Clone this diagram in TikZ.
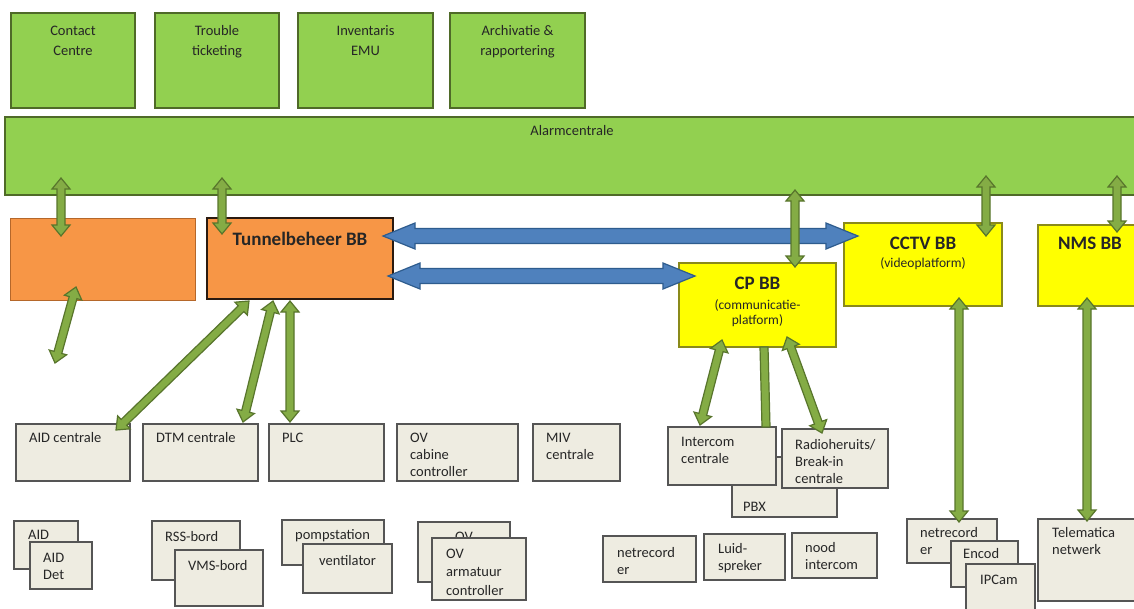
\documentclass[tikz,border=0pt]{standalone}
\usepackage{fontspec}
\setmainfont{Carlito}
\usetikzlibrary{calc}
\definecolor{gfill}{HTML}{92D050}
\definecolor{gdraw}{HTML}{4F6A28}
\definecolor{ofill}{HTML}{F79646}
\definecolor{odraw}{HTML}{B5672A}
\definecolor{tbdraw}{HTML}{2A1A10}
\definecolor{yfill}{HTML}{FFFF00}
\definecolor{ydraw}{HTML}{8A8A1A}
\definecolor{bxfill}{HTML}{EEECE1}
\definecolor{bxdraw}{HTML}{555555}
\definecolor{bfill}{HTML}{4F81BD}
\definecolor{bdraw}{HTML}{2E5C8E}
\definecolor{afill}{HTML}{84AC45}
\definecolor{adraw}{HTML}{58752C}
\definecolor{txtc}{HTML}{262626}

\tikzset{
  basebox/.style={rectangle, inner sep=0pt, outer sep=0pt},
  topbox/.style={basebox, fill=gfill, draw=gdraw, line width=1.5pt},
  orangebox/.style={basebox, fill=ofill, draw=odraw, line width=1pt},
  tbbox/.style={basebox, fill=ofill, draw=tbdraw, line width=2.5pt},
  yellowbox/.style={basebox, fill=yfill, draw=ydraw, line width=1.2pt},
  graybox/.style={basebox, fill=bxfill, draw=bxdraw, line width=1.5pt},
  txt/.style={inner sep=0pt, font=\fontsize{14.5}{17}\selectfont, text=txtc},
  smalltxt/.style={inner sep=0pt, font=\fontsize{13.5}{16}\selectfont, text=txtc},
  boldtxt/.style={inner sep=0pt, font=\bfseries\fontsize{19}{22}\selectfont, text=txtc},
  garrow/.style={fill=afill, draw=adraw, line width=1.2pt, line join=miter},
  barrow/.style={fill=bfill, draw=bdraw, line width=1.2pt, line join=miter},
}

% box node from corner coordinates (pixels, y downwards)
\newcommand\bx[6]{\node[#2, minimum width={#5-#3}, minimum height={#6-#4}] (#1) at ({(#3+#5)/2},{(#4+#6)/2}) {};}
% left aligned / centred multi-line text, first baseline is the node baseline
\newcommand\tl[2][17pt]{\vtop{\baselineskip=#1\lineskiplimit=-30pt\halign{##\hfil\cr#2\crcr}}}
\newcommand\cl[2][17pt]{\vtop{\baselineskip=#1\lineskiplimit=-30pt\halign{\hfil##\hfil\cr#2\crcr}}}
% text at top left of a box
\newcommand\tx[5]{\node[txt, anchor=base west] (#1) at ([xshift=#3pt, yshift=-#4pt]#2.north west) {\tl{#5}};}
% double headed block arrow: style, from, to, half shaft, half head, head length
\newcommand\dbl[6]{%
  \path (#2) coordinate (da-a) (#3) coordinate (da-b);
  \path ($(da-a)!#6!(da-b)$) coordinate (da-p) ($(da-b)!#6!(da-a)$) coordinate (da-q);
  \draw[#1] (da-a) -- ($(da-p)!#5!90:(da-b)$) -- ($(da-p)!#4!90:(da-b)$)
    -- ($(da-q)!#4!-90:(da-a)$) -- ($(da-q)!#5!-90:(da-a)$) -- (da-b)
    -- ($(da-q)!#5!90:(da-a)$) -- ($(da-q)!#4!90:(da-a)$)
    -- ($(da-p)!#4!-90:(da-b)$) -- ($(da-p)!#5!-90:(da-b)$) -- cycle;}
\newcommand\garr[2]{\dbl{garrow}{#1}{#2}{4pt}{9pt}{11pt}}
\newcommand\barr[2]{\dbl{barrow}{#1}{#2}{7.5pt}{13pt}{32pt}}

\begin{document}
\begin{tikzpicture}[x=1pt, y=-1pt]
\useasboundingbox (0,0) rectangle (1134,608);
\fill[white] (0,0) rectangle (1134,608);
\clip (0,0) rectangle (1134,608);

% top row
\bx{cc}{topbox}{11}{13}{135}{108}
\node[txt, anchor=base] (cc-t) at ([yshift=-22pt]cc.north) {\cl[20pt]{Contact\cr Centre}};
\bx{tt}{topbox}{155}{13}{279}{108}
\node[txt, anchor=base] (tt-t) at ([yshift=-22pt]tt.north) {\cl[20pt]{Trouble\cr ticketing}};
\bx{inv}{topbox}{298}{13}{433}{108}
\node[txt, anchor=base] (inv-t) at ([yshift=-22pt]inv.north) {\cl[20pt]{Inventaris\cr EMU}};
\bx{arch}{topbox}{450}{13}{585}{108}
\node[txt, anchor=base] (arch-t) at ([yshift=-22pt]arch.north) {\cl[20pt]{Archivatie \&\cr rapportering}};

% alarm bar
\bx{alarm}{topbox}{5}{117}{1145}{195}
\node[txt, anchor=base] (alarm-t) at ([xshift=567pt, yshift=-18pt]alarm.north west) {Alarmcentrale};

% building blocks
\bx{or1}{orangebox}{10}{218}{195}{300}
\bx{tb}{tbbox}{207}{218}{393}{299}
\node[boldtxt, anchor=base] (tb-t) at ([yshift=-27pt]tb.north) {Tunnelbeheer BB};
\bx{cp}{yellowbox}{679}{263}{836}{347}
\node[boldtxt, anchor=base] (cp-t) at ([yshift=-26pt]cp.north) {CP BB};
\node[smalltxt, anchor=base] (cp-s) at ([yshift=-46pt]cp.north) {\cl[15pt]{(communicatie-\cr platform)}};
\bx{cctv}{yellowbox}{844}{223}{1002}{306}
\node[boldtxt, anchor=base] (cctv-t) at ([yshift=-26pt]cctv.north) {CCTV BB};
\node[smalltxt, anchor=base] (cctv-s) at ([yshift=-44pt]cctv.north) {(videoplatform)};
\bx{nms}{yellowbox}{1038}{225}{1145}{306}
\node[boldtxt, anchor=base] (nms-t) at ([xshift=52pt, yshift=-24pt]nms.north west) {NMS BB};

% first row of subsystems
\bx{aidc}{graybox}{16}{424}{130}{481}
\tx{aidc-t}{aidc}{13}{18}{AID centrale}
\bx{dtm}{graybox}{143}{424}{258}{481}
\tx{dtm-t}{dtm}{13}{18}{DTM centrale}
\bx{plc}{graybox}{269}{424}{384}{481}
\tx{plc-t}{plc}{13}{18}{PLC}
\bx{ovc}{graybox}{397}{424}{518}{481}
\tx{ovc-t}{ovc}{13}{18}{OV\cr cabine\cr controller}
\bx{miv}{graybox}{533}{424}{620}{481}
\tx{miv-t}{miv}{13}{18}{MIV\cr centrale}
\bx{pbx}{graybox}{732}{457}{837}{517}
\tx{pbx-t}{pbx}{11}{54}{PBX}
\bx{ic}{graybox}{668}{427}{776}{485}
\tx{ic-t}{ic}{13}{19}{Intercom\cr centrale}
\bx{radio}{graybox}{782}{429}{888}{488}
\tx{radio-t}{radio}{13}{20}{Radioheruits/\cr Break-in\cr centrale}

% second row
\bx{aidb}{graybox}{14}{521}{78}{569}
\tx{aidb-t}{aidb}{14}{18}{AID}
\bx{aidd}{graybox}{30}{542}{92}{589}
\tx{aidd-t}{aidd}{13}{20}{AID\cr Det}
\bx{rss}{graybox}{152}{521}{240}{580}
\tx{rss-t}{rss}{13}{20}{RSS-bord}
\bx{vms}{graybox}{175}{550}{263}{606}
\tx{vms-t}{vms}{13}{20}{VMS-bord}
\bx{pomp}{graybox}{282}{520}{384}{565}
\tx{pomp-t}{pomp}{13}{19}{pompstation}
\bx{vent}{graybox}{303}{544}{392}{593}
\tx{vent-t}{vent}{16}{21}{ventilator}
\bx{ovb}{graybox}{418}{522}{510}{582}
\node[txt, anchor=base] (ovb-t) at ([yshift=-19pt]ovb.north) {OV};
\bx{ovf}{graybox}{432}{538}{526}{600}
\node[txt, anchor=base west] (ovf-t) at ([xshift=14pt, yshift=-20pt]ovf.north west) {\tl[18.5pt]{OV\cr armatuur\cr controller}};
\bx{netl}{graybox}{603}{536}{696}{582}
\tx{netl-t}{netl}{14}{21}{netrecord\cr er}
\bx{luid}{graybox}{704}{534}{785}{580}
\tx{luid-t}{luid}{14}{19}{Luid-\cr spreker}
\bx{nood}{graybox}{792}{533}{877}{578}
\tx{nood-t}{nood}{13}{19}{nood\cr intercom}
\bx{netr}{graybox}{907}{519}{997}{563}
\tx{netr-t}{netr}{13}{18}{netrecord\cr er}
\bx{enc}{graybox}{951}{541}{1018}{587}
\tx{enc-t}{enc}{12}{17}{Encod}
\bx{ipc}{graybox}{966}{564}{1035}{615}
\tx{ipc-t}{ipc}{14}{20}{IPCam}
\bx{tele}{graybox}{1038}{519}{1145}{601}
\tx{tele-t}{tele}{14}{18}{Telematica\cr netwerk}

% blue arrows
\barr{$(tb.north east)+(-10,18)$}{$(cctv.north west)+(14,13)$}
\barr{$(tb.north east)+(-5,58)$}{$(cp.north west)+(16,13)$}

% green arrows to the alarm bar
\garr{$(alarm.south west)+(56,-17)$}{$(or1.north west)+(51,18)$}
\garr{$(alarm.south west)+(217,-17)$}{$(tb.north west)+(15,16)$}
\garr{$(alarm.south west)+(790,-5)$}{$(cp.north west)+(116,4)$}
\garr{$(alarm.south west)+(981,-19)$}{$(cctv.north west)+(142,13)$}
\garr{$(alarm.south west)+(1112,-19)$}{$(nms.north west)+(79,7)$}

% green arrows downwards
\coordinate (dang) at (55,363);
\garr{$(or1.south west)+(66,-13)$}{dang}
\garr{$(tb.south west)+(42,2)$}{$(aidc.north east)+(-14,6)$}
\garr{$(tb.south west)+(66,2)$}{$(dtm.north east)+(-15,-2)$}
\garr{$(tb.south west)+(83,2)$}{$(plc.north west)+(21,-2)$}
\garr{$(cp.south west)+(43,-7)$}{$(ic.north west)+(32,-2)$}
\dbl{garrow}{$(cp.south west)+(85,0)$}{$(ic.north east)+(-10,0)$}{4pt}{4pt}{0pt}
\garr{$(cp.south west)+(108,-10)$}{$(radio.north west)+(40,4)$}
\garr{$(cctv.south west)+(115,-8)$}{$(netr.north west)+(52,3)$}
\garr{$(nms.south west)+(49,-8)$}{$(tele.north west)+(49,2)$}
\end{tikzpicture}
\end{document}
